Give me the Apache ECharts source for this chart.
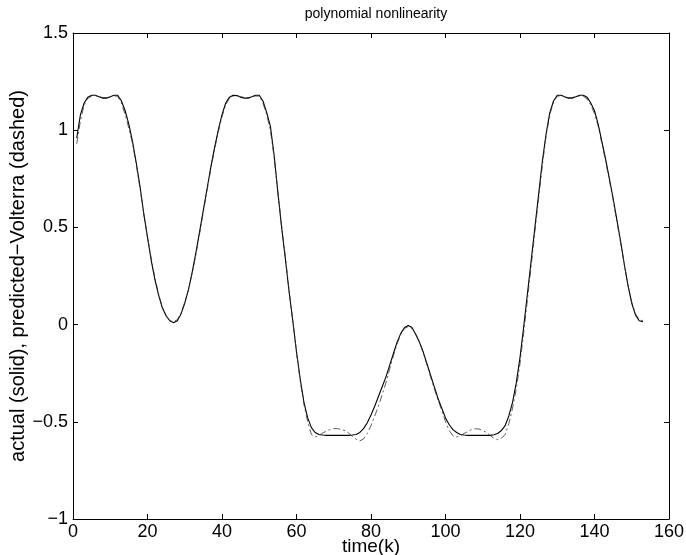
<!DOCTYPE html>
<html>
<head>
<meta charset="utf-8">
<script src="https://cdn.jsdelivr.net/npm/echarts@6/dist/echarts.min.js"></script>
<style>
  html, body { margin: 0; padding: 0; background: #fff; }
  #fig_volterra { width: 686px; height: 555px; }
</style>
</head>
<body>
<div id="fig_volterra"></div>
<script>
// sample index k runs 1..153
var actual = [
    0.96, 1.08, 1.14, 1.17, 1.18, 1.18, 1.172, 1.165, 1.165, 1.172,
    1.18, 1.18, 1.15, 1.10, 1.03, 0.94, 0.83, 0.71, 0.57, 0.45,
    0.33, 0.23, 0.15, 0.085, 0.045, 0.02, 0.01, 0.02, 0.055, 0.11,
    0.18, 0.27, 0.37, 0.48, 0.59, 0.70, 0.81, 0.91, 1.00, 1.08,
    1.14, 1.17, 1.18, 1.178, 1.17, 1.165, 1.165, 1.172, 1.18, 1.18,
    1.15, 1.09, 1.02, 0.87, 0.68, 0.50, 0.34, 0.17, 0.02, -0.14,
    -0.28, -0.40, -0.48, -0.53, -0.555, -0.565, -0.568, -0.57, -0.57, -0.57,
    -0.57, -0.57, -0.57, -0.57, -0.568, -0.565, -0.555, -0.535, -0.505, -0.465,
    -0.42, -0.37, -0.32, -0.27, -0.21, -0.15, -0.09, -0.045, -0.015, -0.005,
    -0.015, -0.05, -0.09, -0.14, -0.20, -0.26, -0.32, -0.38, -0.43, -0.48,
    -0.515, -0.54, -0.555, -0.565, -0.568, -0.57, -0.57, -0.57, -0.57, -0.57,
    -0.57, -0.57, -0.567, -0.56, -0.545, -0.52, -0.47, -0.40, -0.30, -0.17,
    -0.01, 0.16, 0.33, 0.50, 0.67, 0.84, 0.98, 1.09, 1.15, 1.18,
    1.18, 1.172, 1.165, 1.165, 1.172, 1.18, 1.18, 1.17, 1.14, 1.10,
    1.03, 0.94, 0.85, 0.75, 0.65, 0.54, 0.43, 0.31, 0.20, 0.11,
    0.05, 0.02, 0.015
];

var predicted = [
    0.93, 1.05, 1.13, 1.165, 1.175, 1.178, 1.172, 1.168, 1.168, 1.172,
    1.176, 1.175, 1.14, 1.08, 1.01, 0.93, 0.82, 0.70, 0.57, 0.45,
    0.34, 0.24, 0.155, 0.09, 0.045, 0.02, 0.015, 0.025, 0.06, 0.115,
    0.18, 0.265, 0.36, 0.47, 0.58, 0.69, 0.80, 0.90, 0.99, 1.07,
    1.13, 1.165, 1.175, 1.178, 1.172, 1.168, 1.168, 1.172, 1.176, 1.175,
    1.14, 1.08, 1.00, 0.86, 0.68, 0.51, 0.35, 0.18, 0.02, -0.14,
    -0.29, -0.41, -0.50, -0.565, -0.578, -0.57, -0.558, -0.548, -0.54, -0.535,
    -0.535, -0.54, -0.545, -0.558, -0.575, -0.59, -0.598, -0.588, -0.56, -0.52,
    -0.47, -0.42, -0.36, -0.30, -0.23, -0.16, -0.10, -0.05, -0.02, -0.01,
    -0.02, -0.05, -0.09, -0.145, -0.205, -0.27, -0.33, -0.39, -0.44, -0.50,
    -0.545, -0.572, -0.578, -0.572, -0.56, -0.55, -0.54, -0.536, -0.537, -0.545,
    -0.555, -0.57, -0.585, -0.592, -0.585, -0.565, -0.51, -0.43, -0.33, -0.20,
    -0.04, 0.13, 0.30, 0.48, 0.65, 0.82, 0.97, 1.08, 1.145, 1.175,
    1.178, 1.172, 1.168, 1.168, 1.172, 1.176, 1.175, 1.16, 1.13, 1.085,
    1.02, 0.93, 0.84, 0.74, 0.64, 0.53, 0.42, 0.31, 0.20, 0.115,
    0.055, 0.025, 0.02
];

var xTicks = { min: 0, max: 160, interval: 20 };
var yTicks = { min: -1, max: 1.5, interval: 0.5 };

var titleText = 'polynomial nonlinearity';
var xName = 'time(k)';
var yName = 'actual (solid), predicted\u2212Volterra (dashed)';

var FONT = '"Liberation Sans", Arial, Helvetica, sans-serif';

function pairs(arr) {
    return arr.map(function(v, i) { return [i + 1, v]; });
}

function minusSign(v) {
    return String(v).replace('-', '\u2212');
}

var axisLine = { show: true, onZero: false, lineStyle: { color: '#000', width: 1 } };
var tickIn = { show: true, inside: true, length: 5, lineStyle: { color: '#000', width: 1 } };

var option = {
    animation: false,
    backgroundColor: '#fff',
    textStyle: { fontFamily: FONT },
    title: {
        text: titleText,
        left: 371,
        top: 2,
        textAlign: 'center',
        textStyle: { fontFamily: FONT, fontSize: 14, fontWeight: 'normal', color: '#000' }
    },
    grid: {
        left: 73,
        right: 17,
        top: 33,
        bottom: 36,
        containLabel: false,
        outerBoundsMode: 'none'
    },
    xAxis: [
        {
            type: 'value',
            position: 'bottom',
            min: xTicks.min, max: xTicks.max, interval: xTicks.interval,
            name: xName,
            nameLocation: 'middle',
            nameGap: 18,
            nameMoveOverlap: false,
            nameTextStyle: { fontFamily: FONT, fontSize: 19, color: '#000' },
            axisLine: axisLine,
            axisTick: tickIn,
            axisLabel: { color: '#000', fontSize: 18, fontFamily: FONT, margin: 4 },
            splitLine: { show: false }
        },
        {
            type: 'value',
            position: 'top',
            min: xTicks.min, max: xTicks.max, interval: xTicks.interval,
            axisLine: axisLine,
            axisTick: tickIn,
            axisLabel: { show: false },
            splitLine: { show: false }
        }
    ],
    yAxis: [
        {
            type: 'value',
            position: 'left',
            min: yTicks.min, max: yTicks.max, interval: yTicks.interval,
            name: yName,
            nameLocation: 'middle',
            nameGap: 45,
            nameMoveOverlap: false,
            nameTextStyle: { fontFamily: FONT, fontSize: 20, color: '#000' },
            axisLine: axisLine,
            axisTick: tickIn,
            axisLabel: { color: '#000', fontSize: 18, fontFamily: FONT, margin: 5, formatter: minusSign },
            splitLine: { show: false }
        },
        {
            type: 'value',
            position: 'right',
            min: yTicks.min, max: yTicks.max, interval: yTicks.interval,
            axisLine: axisLine,
            axisTick: tickIn,
            axisLabel: { show: false },
            splitLine: { show: false }
        }
    ],
    series: [
        {
            name: 'actual',
            type: 'line',
            xAxisIndex: 0,
            yAxisIndex: 0,
            data: pairs(actual),
            showSymbol: false,
            lineStyle: { color: '#000', width: 1.1 },
            z: 3
        },
        {
            name: 'predicted',
            type: 'line',
            xAxisIndex: 0,
            yAxisIndex: 0,
            data: pairs(predicted),
            showSymbol: false,
            lineStyle: { color: '#333', width: 0.8, type: [7, 3, 2, 3] },
            z: 4
        }
    ]
};

var chart = echarts.init(document.getElementById('fig_volterra'), null, { renderer: 'canvas' });
chart.setOption(option);
</script>
</body>
</html>
